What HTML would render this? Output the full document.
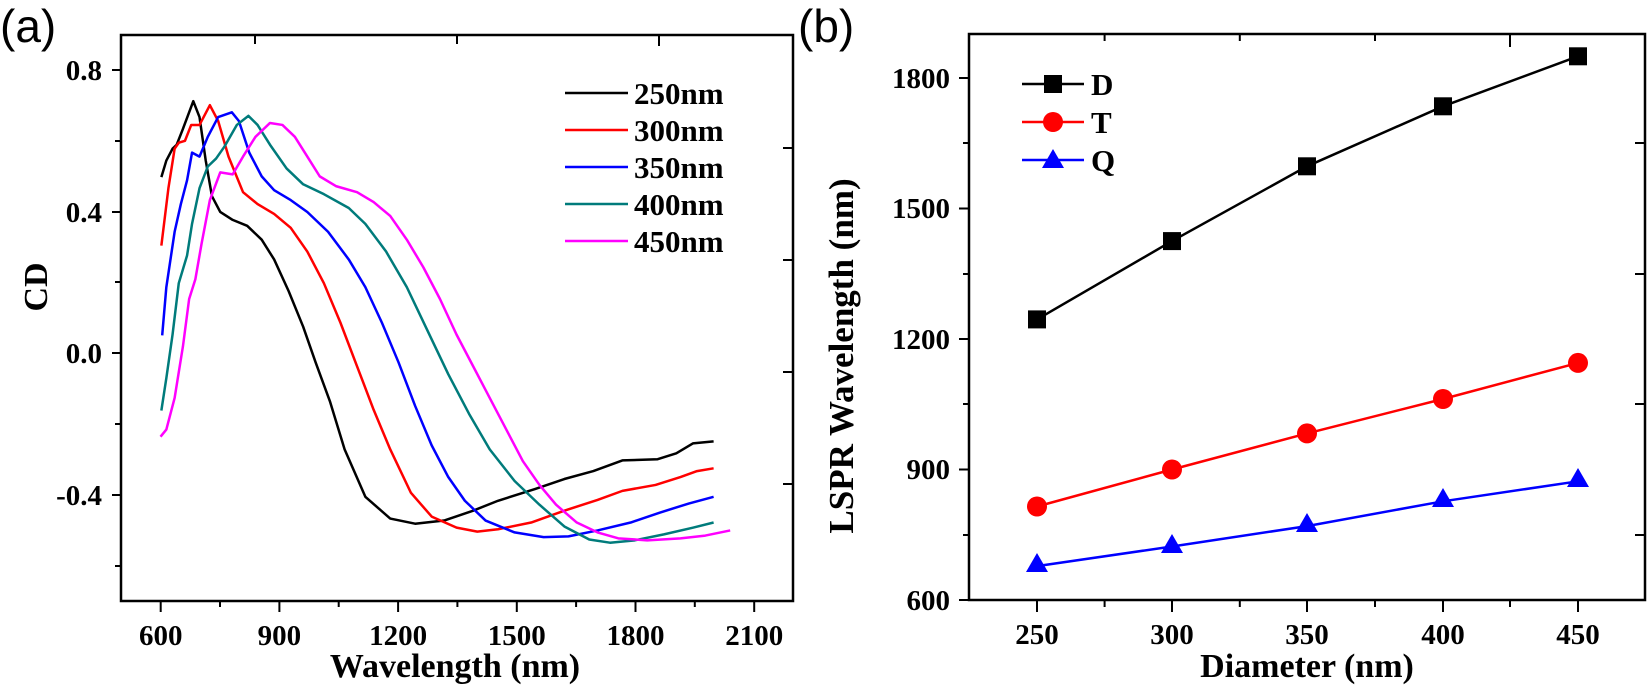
<!DOCTYPE html>
<html><head><meta charset="utf-8"><style>
html,body{margin:0;padding:0;background:#fff;}
svg{display:block;}
text{font-family:"Liberation Serif",serif;font-weight:bold;fill:#000;}
.sans{font-family:"Liberation Sans",sans-serif;font-weight:normal;}
</style></head><body>
<svg width="1650" height="699" viewBox="0 0 1650 699" xmlns="http://www.w3.org/2000/svg">
<!-- Panel a -->
<text class="sans" x="0" y="42" font-size="46">(a)</text>
<rect x="121" y="35" width="672" height="566" fill="none" stroke="#000" stroke-width="2.5"/>
<g stroke="#000" stroke-width="2">
<line x1="160.7" y1="601" x2="160.7" y2="612"/><line x1="279.4" y1="601" x2="279.4" y2="612"/>
<line x1="398.1" y1="601" x2="398.1" y2="612"/><line x1="516.8" y1="601" x2="516.8" y2="612"/>
<line x1="635.5" y1="601" x2="635.5" y2="612"/><line x1="754.2" y1="601" x2="754.2" y2="612"/>
<line x1="220" y1="601" x2="220" y2="607"/><line x1="338.7" y1="601" x2="338.7" y2="607"/>
<line x1="457.4" y1="601" x2="457.4" y2="607"/><line x1="576.1" y1="601" x2="576.1" y2="607"/>
<line x1="694.8" y1="601" x2="694.8" y2="607"/>
<line x1="112" y1="70" x2="121" y2="70"/><line x1="112" y1="212" x2="121" y2="212"/>
<line x1="112" y1="353" x2="121" y2="353"/><line x1="112" y1="495" x2="121" y2="495"/>
<line x1="115" y1="141" x2="121" y2="141"/><line x1="115" y1="282" x2="121" y2="282"/>
<line x1="115" y1="424" x2="121" y2="424"/><line x1="115" y1="566" x2="121" y2="566"/>
<line x1="255" y1="35" x2="255" y2="44"/><line x1="457" y1="35" x2="457" y2="44"/><line x1="659" y1="35" x2="659" y2="46"/>
<line x1="783" y1="148" x2="793" y2="148"/><line x1="783" y1="260" x2="793" y2="260"/>
<line x1="783" y1="372" x2="793" y2="372"/><line x1="783" y1="484" x2="793" y2="484"/>
</g>
<g font-size="29" text-anchor="middle">
<text x="160.7" y="645">600</text><text x="279.4" y="645">900</text><text x="398.1" y="645">1200</text>
<text x="516.8" y="645">1500</text><text x="635.5" y="645">1800</text><text x="754.2" y="645">2100</text>
</g>
<g font-size="29" text-anchor="end">
<text x="102" y="80">0.8</text><text x="102" y="222">0.4</text><text x="102" y="363">0.0</text><text x="102" y="505">-0.4</text>
</g>
<text x="455" y="677" font-size="34" text-anchor="middle">Wavelength (nm)</text>
<text transform="translate(47,287) rotate(-90)" font-size="34" text-anchor="middle">CD</text>
<g transform="translate(100,30) scale(0.4146,0.3956)" fill="none" stroke-width="2.5" stroke-linejoin="round">
<polyline vector-effect="non-scaling-stroke" stroke="#000" points="148,372 160,330 175,300 185,290 200,250 225,180 240,220 255,330 270,420 290,460 320,480 355,495 390,530 420,580 455,660 490,750 520,840 555,940 590,1060 640,1180 700,1235 760,1248 830,1240 900,1215 960,1190 1050,1160 1120,1135 1190,1115 1260,1088 1345,1085 1390,1070 1430,1045 1480,1040"/>
<polyline vector-effect="non-scaling-stroke" stroke="#f00" points="148,545 165,400 180,300 190,285 205,280 220,240 240,240 265,190 285,230 310,320 345,410 380,440 420,465 460,500 500,560 540,640 580,740 620,850 660,960 700,1060 750,1170 800,1230 860,1258 910,1268 960,1262 1040,1245 1120,1215 1200,1188 1260,1165 1340,1150 1400,1130 1440,1115 1480,1108"/>
<polyline vector-effect="non-scaling-stroke" stroke="#00f" points="150,772 160,650 180,510 195,440 210,380 222,310 240,320 260,270 285,220 318,208 335,230 360,310 390,370 420,405 460,430 500,460 550,510 600,580 640,650 680,740 720,840 760,950 800,1050 840,1130 880,1190 930,1240 1000,1270 1070,1282 1130,1280 1200,1265 1280,1245 1350,1220 1420,1197 1480,1180"/>
<polyline vector-effect="non-scaling-stroke" stroke="#007b7b" points="148,962 160,880 175,770 190,640 210,570 222,490 240,400 260,345 280,325 300,295 330,240 358,217 380,240 410,290 450,350 490,390 540,415 600,450 640,490 690,560 740,650 790,760 840,870 890,970 940,1060 1000,1140 1060,1200 1120,1255 1180,1288 1230,1296 1290,1290 1360,1275 1430,1258 1480,1245"/>
<polyline vector-effect="non-scaling-stroke" stroke="#f0f" points="146,1028 160,1010 180,930 200,800 215,680 230,630 245,540 265,430 290,360 320,365 345,320 375,270 410,235 440,240 470,270 500,320 530,370 570,395 620,410 660,435 700,470 740,530 780,600 820,680 860,770 900,850 940,930 980,1010 1020,1090 1060,1150 1100,1200 1150,1245 1200,1270 1250,1285 1320,1290 1400,1285 1460,1278 1520,1265"/>
</g>
<g stroke-width="2.5">
<line x1="565" y1="93" x2="628" y2="93" stroke="#000"/><line x1="565" y1="130" x2="628" y2="130" stroke="#f00"/>
<line x1="565" y1="167" x2="628" y2="167" stroke="#00f"/><line x1="565" y1="204" x2="628" y2="204" stroke="#007b7b"/>
<line x1="565" y1="241" x2="628" y2="241" stroke="#f0f"/>
</g>
<g font-size="31">
<text x="634" y="104">250nm</text><text x="634" y="141">300nm</text><text x="634" y="178">350nm</text>
<text x="634" y="215">400nm</text><text x="634" y="252">450nm</text>
</g>
<!-- Panel b -->
<text class="sans" x="798" y="42" font-size="46">(b)</text>
<rect x="969" y="34" width="676" height="566" fill="none" stroke="#000" stroke-width="2.5"/>
<g stroke="#000" stroke-width="2">
<line x1="1037" y1="600" x2="1037" y2="612"/><line x1="1172" y1="600" x2="1172" y2="612"/>
<line x1="1307" y1="600" x2="1307" y2="612"/><line x1="1443" y1="600" x2="1443" y2="612"/>
<line x1="1578" y1="600" x2="1578" y2="612"/>
<line x1="1104.6" y1="600" x2="1104.6" y2="607"/><line x1="1239.8" y1="600" x2="1239.8" y2="607"/>
<line x1="1375" y1="600" x2="1375" y2="607"/><line x1="1510" y1="600" x2="1510" y2="607"/>
<line x1="959" y1="600" x2="969" y2="600"/><line x1="959" y1="469.5" x2="969" y2="469.5"/>
<line x1="959" y1="339" x2="969" y2="339"/><line x1="959" y1="208.5" x2="969" y2="208.5"/>
<line x1="959" y1="78" x2="969" y2="78"/>
<line x1="963" y1="535" x2="969" y2="535"/><line x1="963" y1="404" x2="969" y2="404"/>
<line x1="963" y1="274" x2="969" y2="274"/><line x1="963" y1="143" x2="969" y2="143"/>
<line x1="1104.6" y1="34" x2="1104.6" y2="41"/><line x1="1239.8" y1="34" x2="1239.8" y2="41"/>
<line x1="1375" y1="34" x2="1375" y2="41"/><line x1="1510" y1="34" x2="1510" y2="47"/>
<line x1="1635" y1="143" x2="1645" y2="143"/><line x1="1635" y1="274" x2="1645" y2="274"/>
<line x1="1635" y1="404" x2="1645" y2="404"/><line x1="1635" y1="535" x2="1645" y2="535"/>
</g>
<g font-size="29" text-anchor="middle">
<text x="1037" y="644">250</text><text x="1172" y="644">300</text><text x="1307" y="644">350</text>
<text x="1443" y="644">400</text><text x="1578" y="644">450</text>
</g>
<g font-size="29" text-anchor="end">
<text x="950" y="610">600</text><text x="950" y="479">900</text><text x="950" y="349">1200</text>
<text x="950" y="218">1500</text><text x="950" y="88">1800</text>
</g>
<text x="1307" y="677" font-size="34" text-anchor="middle">Diameter (nm)</text>
<text transform="translate(853,356) rotate(-90)" font-size="35" text-anchor="middle">LSPR Wavelength (nm)</text>
<g stroke-width="2.5" fill="none">
<polyline stroke="#000" points="1037,319.4 1172,241.1 1307,166.3 1443,106.3 1578,56.3"/>
<polyline stroke="#f00" points="1037,506.5 1172,469.5 1307,433.4 1443,399 1578,362.9"/>
<polyline stroke="#00f" points="1037,566.1 1172,546.5 1307,526.1 1443,501.3 1578,481.3"/>
</g>
<g fill="#000">
<rect x="1028" y="310.4" width="18" height="18"/><rect x="1163" y="232.1" width="18" height="18"/>
<rect x="1298" y="157.3" width="18" height="18"/><rect x="1434" y="97.3" width="18" height="18"/>
<rect x="1569" y="47.3" width="18" height="18"/>
</g>
<g fill="#f00">
<circle cx="1037" cy="506.5" r="10"/><circle cx="1172" cy="469.5" r="10"/><circle cx="1307" cy="433.4" r="10"/>
<circle cx="1443" cy="399" r="10"/><circle cx="1578" cy="362.9" r="10"/>
</g>
<g fill="#00f">
<polygon points="1037,553 1048,572 1026,572"/><polygon points="1172,534 1183,553 1161,553"/>
<polygon points="1307,513 1318,532 1296,532"/><polygon points="1443,488 1454,507 1432,507"/>
<polygon points="1578,468 1589,487 1567,487"/>
</g>
<g stroke-width="2.5">
<line x1="1022" y1="84" x2="1084" y2="84" stroke="#000"/>
<line x1="1022" y1="122" x2="1084" y2="122" stroke="#f00"/>
<line x1="1022" y1="160" x2="1084" y2="160" stroke="#00f"/>
</g>
<rect x="1044" y="75" width="18" height="18" fill="#000"/>
<circle cx="1053" cy="122" r="10" fill="#f00"/>
<polygon points="1053,149 1064,168 1042,168" fill="#00f"/>
<g font-size="31">
<text x="1091" y="95">D</text><text x="1091" y="133">T</text><text x="1091" y="171">Q</text>
</g>
</svg>
</body></html>
